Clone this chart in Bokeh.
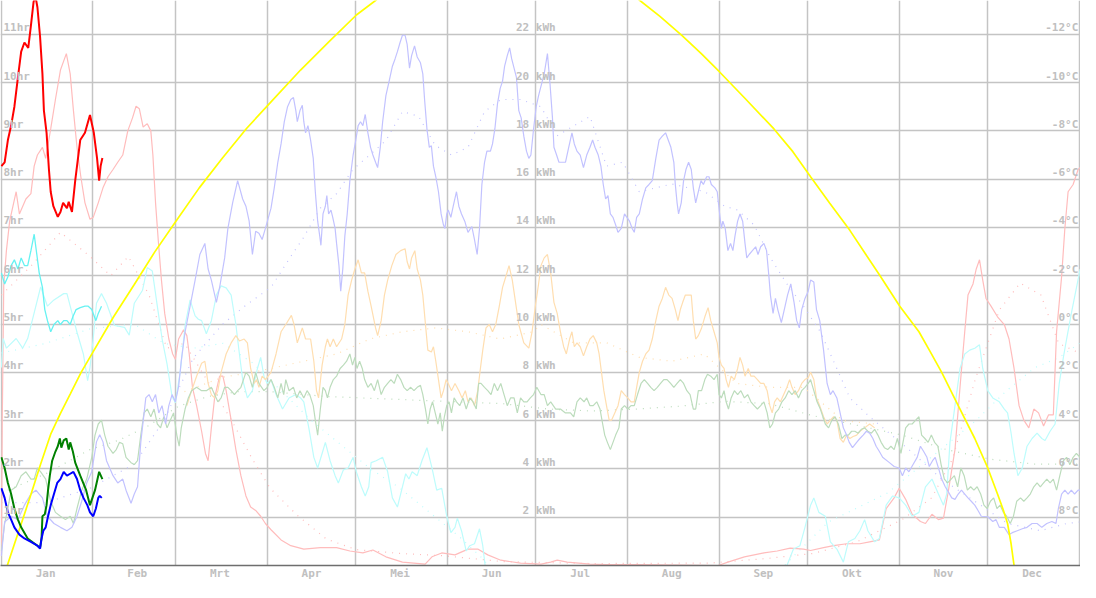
from bokeh.plotting import figure
from bokeh.models import Range1d, FixedTicker
from bokeh.core.properties import value
from bokeh.embed import file_html
from bokeh.resources import INLINE

# ---------------- axis texts ----------------
MONTHS = ["Jan", "Feb", "Mrt", "Apr", "Mei", "Jun", "Jul", "Aug", "Sep", "Okt", "Nov", "Dec"]
MONTH_START = [0, 31, 59, 90, 120, 151, 181, 212, 243, 273, 304, 334, 365]
HR_TICKS = [1, 2, 3, 4, 5, 6, 7, 8, 9, 10, 11]
KWH_TICKS = [2, 4, 6, 8, 10, 12, 14, 16, 18, 20, 22]
TEMP_TICKS = [8, 6, 4, 2, 0, -2, -4, -6, -8, -10, -12]

# ---------------- data: (day of year, value) ----------------
# heating hours, current year (hr)
HEAT_NOW = [(0, 8.27), (1.1, 8.35), (2.2, 8.81), (3.3, 9.11), (4.4, 9.50), (5.6, 10.11), (6.7, 10.64),
            (7.8, 10.83), (9.1, 10.72), (10, 11.18), (10.9, 11.67), (11.5, 11.8), (12.2, 11.56), (13.1, 10.95),
            (13.9, 10.18), (14.4, 9.42), (15.3, 8.96), (16.1, 8.2), (16.7, 7.74), (17.6, 7.44), (19.1, 7.22),
            (20, 7.32), (20.9, 7.51), (22.2, 7.40), (22.8, 7.53), (23.9, 7.32), (25, 7.97), (26.7, 8.81),
            (28.3, 8.96), (30, 9.33), (31.3, 8.96), (32.4, 8.43), (33.1, 7.97), (33.6, 8.27), (34.2, 8.44)]

# heating hours, previous year (hr)
HEAT = [(0, 0.2), (0.3, 3.0), (0.8, 5.8), (1.7, 6.52), (2.8, 7.13), (5, 7.74), (6.1, 7.28), (8.3, 7.59),
        (10, 7.70), (11.1, 8.27), (12.2, 8.50), (13.9, 8.66), (15, 8.43), (16.7, 9.04), (18.3, 9.65),
        (20, 10.26), (22, 10.60), (23.3, 10.18), (24.4, 9.42), (25.6, 8.66), (26.9, 8.05), (28.3, 7.51),
        (30, 7.17), (31.1, 7.21), (32.8, 7.51), (34.4, 7.82), (36.1, 8.05), (37.8, 8.20), (39.4, 8.35),
        (41.1, 8.50), (42.8, 9.0), (44.4, 9.27), (45.6, 9.51), (46.7, 9.46), (48, 9.08), (49.4, 9.15),
        (50.6, 9.0), (51.3, 8.5), (52.2, 7.51), (53.1, 6.75), (54.2, 5.91), (55.3, 5.22), (56.7, 4.69),
        (58, 4.38), (58.9, 4.27), (60, 4.69), (61.7, 4.88), (62.8, 4.76), (63.6, 4.38), (64.7, 3.69),
        (66.1, 3.31), (67.8, 2.78), (69.1, 2.32), (70, 2.17), (71.1, 2.85), (72.2, 3.47), (73.9, 3.92),
        (75, 3.92), (76.1, 3.62), (77.8, 3.01), (79.4, 2.40), (81.1, 1.86), (82.8, 1.44), (84.4, 1.21),
        (86.1, 1.14), (87.8, 1.02), (89.4, 0.87), (91.3, 0.74), (94.7, 0.53), (98, 0.41), (102.4, 0.34),
        (108, 0.37), (113.5, 0.37), (118, 0.30), (122.4, 0.26), (125.8, 0.32), (130.2, 0.18), (135.8, 0.07),
        (143.5, 0.03), (145.8, 0.18), (149.1, 0.26), (153.6, 0.22), (158, 0.34), (161.3, 0.34), (164.7, 0.22),
        (169.1, 0.11), (175.8, 0.05), (182.7, 0.03), (186, 0.07), (188.2, 0.11), (191.6, 0.07), (199.3, 0.03),
        (204.9, 0.02), (215, 0.02), (230, 0.01), (242.7, 0.0), (246, 0.07), (251.6, 0.18), (258.2, 0.26),
        (262.7, 0.30), (267.1, 0.36), (271.6, 0.34), (274, 0.31), (278.4, 0.37), (281.8, 0.41), (286.2, 0.45),
        (290.7, 0.45), (294, 0.49), (297.3, 0.53), (299.6, 1.18), (302.3, 1.40), (304, 1.60), (306.2, 1.37),
        (308.4, 1.06), (311.2, 0.91), (312.9, 0.87), (315.1, 1.06), (317.3, 0.95), (319, 0.98), (320.7, 1.56),
        (322.9, 2.40), (324.6, 3.69), (326.2, 4.84), (327.3, 5.60), (329, 5.83), (330.1, 6.14), (331.2, 6.33),
        (332.3, 5.91), (333.4, 5.53), (335.1, 5.37), (337.3, 5.15), (339.6, 4.99), (341.2, 4.69), (342.9, 4.08),
        (344.6, 3.31), (346.2, 3.01), (347.9, 2.85), (349.6, 3.24), (351.2, 3.16), (352.9, 2.89), (354.6, 3.12),
        (356.2, 3.12), (357.3, 4.84), (359, 5.98), (360.1, 6.98), (361.2, 7.74), (362.9, 7.89), (364.6, 8.20),
        (365.3, 8.24)]

# heating hours, long-term average (hr)
HEAT_AVG = [(0, 5.6), (10, 6.2), (20, 6.9), (30, 6.4), (37, 6.0), (43, 6.4), (50, 5.6), (56, 4.5), (62, 4.6),
            (70, 3.8), (78, 3.0), (85, 2.2), (91, 1.6), (100, 1.05), (110, 0.55), (120, 0.33), (135, 0.25),
            (150, 0.2), (170, 0.08), (200, 0.04), (240, 0.05), (260, 0.15), (275, 0.25), (290, 0.5), (305, 0.95),
            (315, 1.4), (322, 2.2), (330, 3.9), (338, 5.3), (345, 5.85), (352, 5.6), (358, 4.6), (365, 4.4)]

# outside temperature, current year (deg C)
TEMP_NOW = [(0, -2.12), (1.1, -1.66), (2.2, -1.96), (3.3, -2.42), (4.4, -2.66), (5.6, -2.28), (6.7, -2.74),
            (7.8, -2.42), (8.9, -2.42), (10, -3.04), (11.1, -3.72), (12, -2.88), (12.8, -2.12), (13.9, -1.52),
            (14.7, -0.60), (15.6, -0.14), (16.7, 0.32), (17.8, 0.02), (19.1, -0.14), (20, 0.02), (21.1, -0.14),
            (22.2, -0.14), (23.3, 0.02), (24.2, -0.30), (25.3, -0.60), (26.7, -0.68), (28.3, -0.74),
            (29.4, -0.74), (30.6, -0.60), (32, -0.14), (32.8, -0.44), (33.9, -0.74)]

# outside temperature, previous year (deg C), winter-spring part and autumn-winter part
TEMP_A = [(0, 1.8), (0.6, 0.6), (1.7, 1.0), (5, 0.6), (7.2, 1.0), (8.9, 0.6), (11.1, -0.46), (13.3, -1.54),
          (15.6, -0.74), (17.8, -1.0), (21.1, -1.26), (22.2, -1.26), (23.9, -0.46), (25.6, 0.34), (27.8, 1.26),
          (29.2, 2.34), (30, 1.8), (31.1, 0.6), (32.2, -0.86), (33.9, -1.26), (35.6, -0.86), (38.3, 0.06),
          (41.7, 0.14), (43.3, 0.46), (45, -0.86), (47.8, -1.4), (49.4, -2.34), (51.1, -2.2), (52.8, -0.74),
          (54.4, 0.6), (56.1, 1.66), (57.8, 3.0), (58.9, 3.26), (60.6, 1.94), (62.2, 0.06), (63.9, -1.0),
          (65.6, -0.34), (66.7, -0.2), (67.8, -0.14), (69.4, 0.4), (71.1, -0.14), (72.8, -1.2), (74.4, -1.58),
          (76.1, -1.5), (77.8, -1.2), (79.4, 0.02), (80.6, 1.24), (81.7, 2.3), (83.3, 3.06), (85, 2.76),
          (86.7, 1.84), (87.8, 1.38), (88.9, 2.16), (90, 2.46), (91.3, 2.3), (93, 2.92), (95.2, 3.52),
          (97.4, 3.06), (99.7, 2.92), (101.3, 3.06), (102.4, 3.22), (104.1, 4.3), (105.8, 5.52), (107.1, 5.96),
          (108.6, 5.36), (109.7, 4.9), (111.3, 5.66), (113, 6.28), (114.1, 6.58), (115.8, 6.04), (117.4, 5.96),
          (119.1, 5.52), (120.2, 6.12), (121.9, 6.74), (123.2, 7.12), (124.4, 6.74), (125.2, 5.74),
          (126.9, 5.66), (129.1, 5.52), (130.8, 6.12), (132.4, 7.2), (134.1, 7.58), (135.8, 6.74), (136.9, 6.2),
          (138, 6.42), (139.1, 6.12), (140.8, 6.28), (142.4, 5.66), (144.1, 5.12), (145.8, 5.96), (147.4, 6.88),
          (149.1, 6.8), (150.8, 7.96), (152.2, 8.64), (153.6, 8.42), (154.4, 8.04), (155.8, 8.56), (157.4, 9.4),
          (158.6, 9.18), (160.2, 9.1), (161.9, 8.48), (163, 9.18), (163.8, 10.0), (165, 11.0)]
TEMP_B = [(264, 11.0), (266, 10.0), (268.2, 9.32), (270.4, 9.18), (272.1, 8.42), (274, 7.5), (275.1, 7.2),
          (276.8, 7.8), (279, 7.96), (280.7, 9.02), (282.9, 9.32), (285.1, 9.86), (286.8, 9.02), (289, 8.88),
          (290.7, 8.56), (292.3, 8.1), (293.4, 8.56), (295.7, 9.02), (297.3, 8.88), (299.6, 7.5), (301.8, 7.12),
          (304, 7.2), (306.2, 7.5), (308.4, 7.96), (310.7, 7.8), (312.9, 6.74), (315.1, 6.42), (317.3, 7.04),
          (319, 7.5), (320.1, 7.04), (321.2, 4.9), (322.9, 3.38), (324.6, 1.84), (326.2, 1.24), (327.9, 1.08),
          (329.6, 1.0), (331.2, 0.86), (332.3, 1.84), (334, 2.76), (335.7, 3.06), (337.9, 3.22), (339.6, 3.52),
          (340.7, 3.68), (341.8, 4.44), (342.9, 5.36), (344.2, 6.28), (345.7, 5.96), (347.3, 5.06), (349, 4.74),
          (350.7, 4.52), (352.3, 4.74), (353.4, 4.82), (355.1, 4.44), (356.8, 4.14), (358.2, 2.46),
          (359.6, 1.38), (360.7, 0.62), (362.3, -0.44), (363.8, -1.36), (365.3, -2.28)]

# outside temperature, long-term average (deg C)
TEMP_AVG_A = [(0, 1.2), (15, 0.8), (30, 0.2), (45, 0.0), (55, 0.8), (65, 1.0), (75, 0.8), (85, 1.6), (95, 2.8),
              (105, 4.0), (115, 5.0), (125, 6.0), (135, 6.8), (145, 7.8), (155, 8.8), (162, 9.6), (168, 10.4)]
TEMP_AVG_B = [(262, 10.4), (270, 9.4), (280, 8.2), (290, 7.6), (300, 7.0), (310, 6.0), (320, 5.0), (330, 4.0),
              (340, 2.8), (350, 1.8), (358, 1.4), (365, 0.8)]

# solar yield, current year and previous year (kWh)
SOLAR_NOW = [(0, 3.20), (1.1, 2.80), (2.2, 2.20), (3.3, 1.90), (4.4, 1.58), (6.1, 1.28), (7.8, 1.12), (10, 0.98),
             (12.2, 0.82), (13.1, 0.70), (13.6, 1.12), (14.2, 1.44), (15, 1.58), (15.8, 2.04), (16.7, 2.50),
             (17.8, 2.96), (18.9, 3.42), (20, 3.58), (21.1, 3.88), (22.2, 3.72), (23.3, 3.80), (24.4, 3.88),
             (25.6, 3.58), (26.7, 3.12), (27.8, 2.80), (29.1, 2.50), (30, 2.20), (31.1, 2.04), (32, 2.36),
             (32.8, 2.80), (33.3, 2.88), (34, 2.80)]
SOLAR = [(0, 0.4), (1.1, 1.8), (3.3, 2.04), (5.6, 1.9), (7.8, 2.5), (10, 2.96), (11.7, 3.12), (12.8, 2.96),
         (13.9, 2.8), (15.6, 2.04), (17.8, 1.74), (20, 1.58), (22.2, 1.44), (23.9, 1.58), (25.6, 2.04),
         (27.2, 2.66), (28.9, 3.42), (30.6, 3.88), (32.2, 5.12), (33.3, 5.42), (34.4, 5.12), (35.6, 4.34),
         (37.8, 3.72), (39.4, 3.42), (41.1, 3.58), (42.2, 3.12), (43.9, 2.58), (45, 2.96), (46.1, 3.26),
         (47.2, 5.1), (48.9, 6.94), (50, 7.08), (51.1, 6.78), (52.2, 7.08), (53.3, 6.32), (54.4, 6.62),
         (55.6, 5.86), (56.7, 6.62), (57.8, 7.08), (58.9, 6.78), (60, 7.4), (60.9, 8.46), (62.2, 9.68),
         (63.9, 10.74), (65.6, 11.82), (67.2, 12.88), (68.9, 13.34), (70, 12.28), (71.1, 11.82), (72.8, 10.9),
         (73.9, 11.52), (75.6, 12.74), (76.7, 13.96), (78.3, 15.02), (80, 15.94), (81.7, 15.18), (82.8, 14.88),
         (83.9, 14.26), (85, 12.88), (86.1, 13.84), (87.2, 13.76), (88.3, 13.5), (89.4, 13.96),
         (91.3, 14.8), (92.4, 15.64), (93.6, 16.7), (94.7, 17.46), (95.8, 18.38), (96.9, 19.0), (98, 19.3),
         (98.9, 19.38), (99.7, 18.84), (100.2, 18.38), (101.1, 18.84), (101.9, 19.06), (102.4, 18.38),
         (103, 17.92), (103.8, 18.22), (104.7, 17.62), (105.6, 16.86), (106.3, 15.48), (107.1, 14.26),
         (107.8, 13.64), (108.2, 13.26), (108.9, 14.56), (109.7, 14.88), (110.2, 15.32), (110.8, 14.56),
         (111.6, 14.72), (112.2, 14.42), (113, 13.96), (113.5, 13.34), (114.3, 12.42), (114.9, 11.36),
         (115.6, 12.28), (116.3, 13.64), (117.1, 14.56), (118, 15.94), (119.1, 17.0), (120, 17.62),
         (120.8, 18.22), (121.6, 18.38), (122.4, 18.22), (123.2, 18.68), (124.1, 17.92), (125, 17.32),
         (125.8, 17.0), (126.7, 16.7), (127.4, 16.48), (128.3, 17.32), (129.1, 18.38), (130.2, 19.46),
         (131.3, 20.06), (132.4, 20.68), (133.3, 20.98), (134.1, 21.28), (135, 21.66), (135.8, 21.96),
         (136.7, 21.96), (137.4, 21.58), (138.2, 20.6), (138.9, 21.12), (139.9, 21.52), (140.8, 21.06),
         (141.9, 20.82), (142.7, 20.36), (143.3, 19.3), (144.1, 18.08), (144.9, 17.32), (145.6, 17.38),
         (146.3, 16.54), (147.1, 16.1), (148, 15.48), (148.9, 14.56), (149.7, 14.1), (150.2, 13.96),
         (150.8, 14.56), (151.3, 14.72), (152.2, 14.42), (153, 14.88), (154.1, 15.48), (154.9, 14.88),
         (155.8, 14.56), (156.9, 14.26), (158, 13.8), (159.3, 14.04), (160.2, 13.5), (161.1, 12.88),
         (161.9, 13.96), (162.7, 15.78), (163.6, 16.7), (164.4, 17.16), (165.6, 17.16), (166.3, 17.46),
         (167.1, 18.08), (168, 19.14), (168.9, 19.76), (169.7, 20.06), (170.4, 20.68), (171.3, 21.12),
         (172.1, 21.44), (172.8, 20.98), (173.6, 20.6), (174.4, 20.22), (175.2, 18.84), (176, 18.54),
         (176.9, 17.78), (177.8, 17.16), (178.6, 16.86), (179.3, 17.0), (180.2, 18.08), (181.1, 19.0),
         (181.9, 19.46), (182.7, 19.84), (183.8, 20.36), (184.9, 21.2), (185.8, 19.9), (186.6, 18.54),
         (187.1, 17.32), (188, 17.0), (188.8, 16.7), (189.9, 16.7), (191, 16.7), (192.1, 17.32), (193.2, 17.92),
         (194, 17.46), (194.9, 17.16), (196, 17.0), (197.1, 16.48), (198.2, 17.0), (199.3, 17.32),
         (200.2, 17.62), (201, 17.32), (202.1, 17.0), (203, 16.54), (203.8, 15.78), (204.6, 15.18),
         (205.4, 15.32), (206.2, 14.56), (207.1, 14.42), (208, 14.1), (208.8, 13.8), (209.9, 13.96),
         (211, 14.56), (211.8, 14.42), (212.7, 14.26), (213.6, 13.96), (214.3, 13.8), (215.1, 14.42),
         (216, 14.56), (217.1, 15.18), (218.2, 15.64), (219.3, 15.78), (220.4, 15.94), (221.6, 16.86),
         (222.7, 17.62), (223.8, 17.78), (224.9, 17.92), (225.8, 17.62), (226.7, 17.32), (227.7, 16.7),
         (228.2, 15.78), (228.8, 15.02), (229.3, 14.56), (230.2, 15.02), (231, 15.94), (231.8, 16.4),
         (232.7, 16.7), (233.6, 16.4), (234.3, 15.64), (235.1, 15.02), (236, 15.48), (236.9, 15.94),
         (237.7, 15.78), (238.8, 16.1), (239.6, 16.1), (240.4, 15.78), (241.6, 15.64), (242.4, 15.48),
         (243.2, 14.56), (243.8, 13.96), (244.3, 14.26), (245.1, 13.96), (246, 13.04), (246.9, 13.34),
         (247.7, 13.04), (248.4, 13.64), (249.3, 14.26), (250.1, 14.56), (251, 14.26), (251.8, 13.34),
         (252.4, 12.74), (253.2, 12.88), (254.3, 13.04), (255.4, 13.2), (256.2, 12.88), (257.1, 13.2),
         (258.2, 13.34), (259.1, 13.04), (259.9, 11.96), (260.4, 11.2), (261.3, 10.44), (262.1, 11.06),
         (262.9, 10.6), (264.1, 10.06), (265.1, 10.6), (266.2, 11.2), (267.3, 11.66), (268.4, 10.9),
         (269.3, 10.14), (270.2, 9.84), (271, 10.6), (272.1, 11.06), (273.2, 11.36), (274, 11.82),
         (275.1, 11.74), (276, 10.6), (277.1, 10.14), (278.4, 8.92), (279.6, 7.54), (280.7, 7.08),
         (281.6, 7.24), (282.9, 6.94), (284, 6.32), (285.1, 5.7), (286.2, 5.4), (287.1, 5.1), (288.2, 4.88),
         (289.6, 5.1), (290.7, 5.26), (291.8, 5.4), (292.9, 5.56), (294, 5.48), (295.1, 5.26), (296.2, 4.94),
         (297.3, 4.72), (298.4, 4.48), (300.7, 4.26), (302.3, 4.1), (304, 4.04), (305.1, 3.72), (306.2, 4.04),
         (307.3, 3.88), (308.7, 4.18), (310.1, 4.48), (311.2, 4.94), (312.3, 4.72), (313.4, 4.48), (314.2, 4.1),
         (315.3, 4.34), (316.2, 4.48), (317.3, 4.04), (318.4, 3.58), (319.6, 3.26), (320.7, 3.04), (321.8, 2.8),
         (322.9, 2.74), (324, 2.96), (325.1, 3.12), (326.2, 2.96), (327.3, 2.8), (328.4, 2.66), (329.6, 2.5),
         (330.7, 2.28), (331.8, 2.04), (334, 2.02), (335.7, 1.82), (336.8, 1.9), (337.9, 1.58), (339.6, 1.58),
         (341.2, 1.28), (342.3, 1.36), (344, 1.44), (345.7, 1.52), (347.3, 1.58), (349, 1.74), (350.7, 1.74),
         (352.3, 1.58), (354, 1.74), (355.7, 1.82), (357.1, 1.74), (357.9, 2.36), (359, 2.96), (360.1, 3.12),
         (361.2, 2.96), (362.3, 3.12), (363.4, 2.96), (364.6, 3.12), (365.3, 3.12)]
SOLAR_AVG = [(0, 2.6), (15, 2.6), (30, 3.2), (45, 4.2), (55, 6.0), (65, 8.6), (75, 10.0), (83, 10.8),
             (91.3, 11.52), (98, 12.8), (102.4, 13.6), (108, 14.8), (113.5, 15.4), (119, 16.4), (124.7, 17.0),
             (130.2, 17.6), (135.8, 18.8), (141.3, 18.6), (146.9, 17.4), (152.4, 17.0), (158, 17.32),
             (163.6, 18.8), (169.1, 19.3), (175.8, 19.3), (182.7, 19.0), (188.2, 17.8), (199.3, 18.6),
             (204.9, 16.54), (210.4, 16.7), (216, 15.48), (227.1, 15.8), (238.2, 15.48), (244.9, 14.88),
             (249.3, 14.72), (254.9, 14.1), (260.4, 12.74), (266, 11.66), (271.6, 10.74), (277.3, 9.68),
             (280.7, 8.76), (287.3, 6.94), (294, 6.16), (307.3, 4.8), (318.4, 3.58), (329.6, 2.66),
             (340.7, 1.74), (351.8, 1.44), (360.7, 1.74), (365, 1.8)]

# electricity use (kWh), previous year and average
POWER = [(62.8, 6.62), (64.4, 7.24), (66.1, 7.84), (67.8, 8.38), (68.9, 8.46), (70, 7.54), (71.1, 7.08),
         (72.2, 6.94), (73.3, 7.24), (74.4, 8.0), (76.1, 8.76), (77.8, 9.22), (79.4, 9.52), (80.6, 9.3),
         (82.2, 9.38), (83.3, 9.22), (84.4, 8.16), (85.6, 7.54), (86.4, 7.7), (87.2, 7.38), (88.3, 7.84),
         (89.4, 7.7), (91.3, 8.0), (93, 8.76), (94.7, 9.68), (96.3, 9.98), (98.2, 10.36), (99.1, 9.98),
         (100.2, 9.22), (101.9, 9.84), (103, 9.38), (104.7, 9.38), (105.8, 8.46), (106.7, 7.24), (107.4, 6.94),
         (108.6, 8.3), (109.7, 9.06), (110.4, 9.38), (111.3, 9.06), (112.4, 9.38), (113.5, 9.06), (115.2, 9.38),
         (116.3, 9.98), (117.4, 11.2), (118.6, 11.82), (119.7, 12.28), (120.8, 12.66), (121.9, 12.12),
         (123, 12.12), (124.1, 11.36), (125.2, 10.74), (126.7, 9.84), (127.4, 9.52), (128.6, 10.14),
         (129.7, 11.2), (130.8, 11.82), (132.2, 12.42), (133.6, 12.88), (135.2, 13.04), (136.7, 13.12),
         (137.4, 12.58), (138.2, 12.28), (138.9, 12.74), (140, 13.04), (140.8, 12.28), (141.9, 11.82),
         (142.7, 11.2), (143.6, 9.98), (144.4, 8.92), (145.6, 8.84), (146.3, 9.06), (147.1, 8.46), (148, 7.7),
         (148.9, 6.94), (149.7, 7.24), (150.6, 7.7), (151.3, 7.54), (152.4, 7.24), (153.6, 7.54), (154.9, 7.24),
         (156, 6.94), (157.1, 7.24), (158, 6.78), (159.1, 6.94), (160.2, 6.62), (161.3, 7.24), (162.2, 8.16),
         (163, 8.92), (164.1, 9.84), (165.2, 9.98), (166.3, 9.68), (167.4, 9.98), (168.6, 10.74), (169.7, 11.52),
         (170.8, 11.96), (171.9, 12.42), (173, 11.82), (174.1, 10.9), (175.2, 9.98), (176.9, 9.22), (178.6, 9.0),
         (179.7, 9.68), (180.8, 10.74), (181.9, 11.66), (182.7, 12.42), (183.8, 12.74), (184.9, 12.88),
         (186, 12.12), (187.1, 10.9), (188.2, 10.44), (189.3, 9.68), (190.4, 9.06), (191.3, 8.76), (192.4, 9.38),
         (193.2, 9.68), (194, 9.06), (194.9, 9.22), (196, 9.06), (197.1, 8.68), (198.2, 9.06), (199.3, 9.38),
         (200.4, 9.52), (201.6, 9.22), (202.4, 8.76), (203.2, 8.0), (204, 7.24), (204.9, 6.62), (205.8, 6.02),
         (206.6, 6.02), (207.7, 6.32), (208.8, 6.62), (209.9, 7.24), (211, 7.08), (212.1, 6.94), (213.2, 6.78),
         (214.3, 6.78), (215.1, 7.38), (216, 8.0), (217.1, 8.46), (218.2, 8.76), (219.3, 8.92), (220.4, 9.38),
         (221.6, 10.14), (222.7, 10.74), (223.8, 11.06), (224.9, 11.52), (226, 11.2), (227.1, 11.06),
         (228.2, 10.6), (229.1, 10.14), (229.9, 10.6), (230.7, 10.9), (231.6, 11.2), (232.7, 11.2), (233.6, 11.2),
         (234.3, 10.14), (235.1, 9.38), (236, 9.52), (237.1, 9.84), (238.2, 10.3), (239.3, 10.68),
         (240.2, 10.14), (241.3, 9.68), (242.4, 9.22), (243, 8.62), (243.8, 8.3), (244.7, 8.16), (245.4, 7.7),
         (246.2, 7.38), (247.1, 7.84), (248.2, 7.7), (249.3, 8.16), (250.1, 8.62), (251, 8.3), (251.8, 7.84),
         (252.9, 8.16), (253.8, 7.84), (254.9, 7.84), (256, 7.7), (257.1, 7.54), (258.2, 7.54), (259.3, 7.24),
         (260.2, 6.62), (261, 6.32), (261.8, 6.78), (262.7, 6.94), (263.8, 6.78), (264.9, 7.08), (266, 7.38),
         (266.9, 7.7), (267.7, 7.38), (268.8, 7.08), (269.9, 7.24), (271, 7.54), (272.1, 7.7), (273.2, 7.78),
         (274, 8.0), (275.1, 7.7), (276, 6.94), (277.1, 6.62), (278.4, 6.16), (279.6, 5.86), (280.7, 6.02),
         (281.8, 6.16), (282.9, 6.02), (284, 5.26), (285.1, 5.1), (286.2, 5.4), (287.3, 5.26), (288.4, 5.34),
         (289.6, 5.4), (290.7, 5.56), (292.3, 5.7), (294, 5.86), (295.7, 5.7)]
POWER_AVG = [(62, 7.2), (75, 7.8), (85, 8.0), (91.3, 8.16), (113.5, 8.76), (124.7, 9.38), (135.8, 9.68),
             (147, 9.84), (158, 9.68), (169, 9.38), (180, 9.68), (182.7, 9.98), (193.8, 9.22), (205, 9.22),
             (216, 8.62), (227, 8.46), (238, 8.76), (249, 7.54), (260, 7.38), (271.6, 7.38), (285, 6.0),
             (296, 5.86)]

# base load (kWh): current year, previous year, average
BASE_NOW = [(0, 4.48), (1.1, 4.04), (2.2, 3.42), (3.3, 2.96), (4.4, 2.36), (5.6, 1.90), (6.7, 1.58), (8.9, 1.12),
            (12.2, 0.82), (13.1, 0.74), (13.6, 1.12), (13.9, 2.04), (14.7, 2.12), (15.3, 2.50), (15.8, 3.12),
            (16.4, 3.72), (17.2, 4.34), (18.3, 4.72), (19.1, 4.94), (19.8, 5.26), (20.3, 4.88), (21.1, 5.18),
            (22, 5.26), (22.8, 4.80), (23.3, 5.10), (24.2, 4.72), (25, 4.26), (26.7, 3.72), (28.7, 3.12),
            (30, 2.50), (31.7, 3.12), (33.1, 3.88), (34.2, 3.58)]
BASE = [(0, 0.6), (1.1, 1.74), (2.2, 2.36), (3.3, 3.12), (5, 3.26), (6.7, 3.72), (8.3, 3.88), (10, 3.58),
        (11.1, 3.58), (12.2, 4.04), (13.3, 3.88), (15, 3.58), (16.7, 2.66), (18.3, 2.2), (20, 2.04), (21.7, 1.9),
        (23.3, 2.04), (24.4, 1.74), (25.6, 2.36), (27.2, 3.12), (28.9, 3.58), (30.6, 4.48), (31.7, 5.4),
        (32.8, 5.86), (33.9, 6.02), (35, 5.4), (36.1, 4.94), (37.8, 4.64), (38.9, 4.8), (40, 5.1), (41.1, 5.04),
        (42.2, 4.48), (43.9, 4.26), (45, 4.18), (46.1, 4.34), (47.2, 5.4), (48.3, 6.32), (49.4, 6.48),
        (50.6, 6.16), (51.7, 6.48), (52.8, 5.86), (53.9, 5.7), (55, 6.16), (56.1, 5.7), (57.2, 6.02),
        (58.3, 6.32), (59.4, 5.4), (60.2, 4.94), (60.9, 5.7), (62.2, 6.48), (63.3, 6.94), (64.4, 7.24),
        (66.1, 7.38), (67.8, 7.24), (69.4, 7.24), (71.1, 7.38), (72.2, 7.08), (73.3, 6.78), (74.4, 6.94),
        (75.6, 7.38), (76.7, 7.38), (77.8, 7.24), (78.9, 7.08), (80, 7.24), (81.1, 7.38), (82.8, 8.0),
        (83.9, 7.84), (85, 7.38), (86.1, 8.0), (87.2, 7.54), (88.9, 7.24), (90, 7.38), (91.3, 7.7), (92.4, 7.38),
        (93.6, 6.94), (94.7, 7.54), (95.6, 7.08), (96.3, 7.7), (97.4, 7.24), (98.9, 7.38), (100, 6.94),
        (101.1, 7.24), (102.4, 6.94), (103.5, 7.24), (104.4, 7.08), (105.6, 6.62), (106.3, 6.02), (107.1, 5.4),
        (108, 6.48), (108.9, 7.38), (109.7, 7.24), (110.4, 6.94), (111.3, 7.38), (112.4, 7.7), (113.5, 7.84),
        (114.7, 8.16), (115.8, 8.3), (116.9, 8.46), (118, 8.76), (118.9, 8.3), (119.7, 8.62), (120.4, 8.16),
        (121.3, 8.46), (122.2, 8.16), (123, 7.7), (124.1, 7.38), (125.2, 7.54), (126.3, 7.24), (127.4, 7.7),
        (128.6, 7.08), (129.7, 7.38), (130.8, 7.54), (131.9, 7.7), (133, 7.54), (134.1, 7.92), (135.2, 7.7),
        (136.3, 7.38), (137.4, 7.24), (138.6, 7.38), (139.7, 7.24), (140.8, 7.38), (141.9, 7.46), (142.7, 7.08),
        (143.6, 6.48), (144.4, 5.86), (145.2, 6.48), (146, 6.78), (146.9, 6.32), (147.8, 5.86), (148.6, 6.32),
        (149.3, 5.56), (150, 6.16), (150.8, 6.62), (151.6, 6.78), (152.4, 6.32), (153.3, 6.94), (154.1, 6.78),
        (155.2, 6.62), (156.3, 6.94), (157.4, 6.48), (158.6, 6.94), (159.7, 6.78), (160.8, 6.48), (161.6, 7.54),
        (162.4, 7.54), (163.6, 7.38), (164.7, 7.24), (165.8, 7.08), (166.9, 7.54), (168, 7.24), (169.1, 7.54),
        (170.2, 7.08), (171.3, 6.62), (172.4, 6.94), (173.6, 6.94), (174.7, 6.32), (175.8, 6.94), (176.9, 6.78),
        (178, 6.78), (179.1, 6.94), (180.2, 7.08), (181.3, 7.38), (182.7, 7.08), (183.8, 7.08), (184.9, 6.62),
        (186, 6.78), (187.7, 6.48), (189.3, 6.48), (191, 6.32), (192.7, 6.32), (193.8, 6.16), (194.9, 6.78),
        (196, 6.94), (197.3, 6.78), (198.2, 6.94), (199.3, 6.62), (200.4, 6.62), (201.6, 6.78), (202.7, 6.48),
        (203.6, 5.86), (204.3, 5.4), (205.2, 5.1), (206.2, 4.8), (207.1, 5.1), (208, 5.4), (209.1, 5.7),
        (209.9, 6.48), (211, 6.62), (212.1, 6.48), (213.2, 6.62), (214.3, 6.62), (215.4, 7.08), (216.6, 7.54),
        (217.7, 7.7), (218.8, 7.54), (219.9, 7.38), (221, 7.24), (222.1, 7.38), (223.2, 7.54), (224.3, 7.7),
        (225.4, 7.7), (226.6, 7.54), (227.7, 7.38), (228.8, 7.54), (229.9, 7.7), (231, 7.54), (232.1, 7.24),
        (233.2, 7.08), (234.3, 6.48), (235.1, 6.48), (236, 7.24), (237.1, 7.24), (238.2, 7.7), (239.1, 7.92),
        (240.2, 7.84), (241.3, 7.7), (242.4, 7.92), (243, 7.08), (243.8, 6.94), (244.7, 7.24), (245.4, 6.78),
        (246.2, 6.48), (247.1, 6.94), (248.2, 7.24), (249.3, 7.08), (250.4, 7.24), (251.6, 6.94), (252.7, 7.08),
        (253.8, 6.78), (254.9, 6.62), (256, 6.48), (257.1, 6.62), (258.2, 6.78), (259.3, 6.32), (260.2, 5.7),
        (261.1, 5.86), (262.1, 6.32), (263.2, 6.48), (264.3, 6.78), (265.4, 6.94), (266.6, 7.24), (267.7, 7.08),
        (268.8, 7.24), (269.9, 6.94), (271, 7.24), (272.1, 7.38), (273.2, 7.54), (274, 7.7), (275.1, 7.24),
        (276.2, 6.78), (277.3, 6.48), (279, 5.86), (280.1, 5.7), (281.2, 6.02), (282.3, 6.16), (283.4, 5.86),
        (284.6, 5.26), (285.7, 5.4), (286.8, 5.4), (287.9, 5.56), (289, 5.56), (290.1, 5.48), (291.2, 5.64),
        (292.3, 5.7), (293.4, 5.56), (294.6, 5.48), (295.7, 5.64), (296.8, 5.4), (297.9, 5.1), (299, 4.88),
        (300.1, 4.8), (301.2, 4.94), (302.3, 4.8), (303.4, 5.26), (304.6, 4.64), (305.3, 5.1), (306.2, 5.7),
        (307.3, 5.86), (308.4, 5.86), (309.6, 6.02), (310.7, 6.16), (311.6, 5.4), (312.7, 5.26), (313.8, 5.1),
        (314.9, 5.4), (316, 5.1), (317.1, 4.94), (318.2, 4.18), (319.3, 3.58), (320.4, 3.42), (321.6, 3.58),
        (322.7, 3.72), (323.8, 3.26), (324.9, 4.04), (326, 3.72), (327.1, 3.12), (328.2, 3.26), (329.3, 3.12),
        (330.4, 3.26), (331.6, 2.96), (332.7, 2.5), (333.8, 2.36), (334.9, 2.66), (336, 2.8), (337.1, 2.36),
        (338.2, 2.5), (339.3, 2.2), (340.4, 2.04), (341.6, 1.74), (342.7, 2.04), (343.8, 2.66), (345.1, 2.8),
        (346.2, 2.66), (347.3, 2.8), (348.4, 2.96), (349.6, 3.26), (350.7, 3.42), (351.8, 3.26), (352.9, 3.42),
        (354, 3.58), (355.1, 3.42), (356.2, 3.58), (357.3, 3.12), (358.4, 3.72), (359.6, 4.34), (360.7, 4.48),
        (361.8, 4.18), (362.9, 4.48), (364, 4.64), (365.3, 4.48)]
BASE_AVG = [(0, 3.0), (15, 3.8), (30, 4.8), (40, 5.2), (50, 5.8), (60, 6.6), (70, 7.0), (80, 7.2), (91, 7.2),
            (110, 7.0), (130, 6.9), (150, 6.8), (170, 6.7), (185, 6.48), (200, 6.4), (215, 6.48), (230, 6.6),
            (245, 6.8), (260, 6.7), (275, 6.2), (290, 5.8), (305, 5.4), (320, 4.8), (335, 4.4), (350, 4.2),
            (365, 4.2)]

# yellow curve (hr)
SUN = [(2, 0.0), (4.5, 0.46), (6.7, 0.86), (10, 1.47), (13.3, 2.1), (16.7, 2.72), (20, 3.15), (23.3, 3.55),
       (27, 4.0), (31.1, 4.43), (38, 5.15), (45, 5.82), (52, 6.5), (59.1, 7.13), (67, 7.82), (75, 8.45),
       (83, 9.05), (91.3, 9.6), (101.3, 10.26), (111.3, 10.87), (120.2, 11.40), (126.9, 11.71), (140, 12.45),
       (155, 12.95), (172, 13.15), (190, 12.9), (205, 12.35), (216, 11.71), (223, 11.37), (230.4, 10.98),
       (237, 10.6), (243.2, 10.22), (252, 9.66), (261.6, 9.04), (268, 8.57), (274, 8.05), (280.5, 7.5),
       (287.3, 6.94), (292.5, 6.46), (297.3, 6.02), (304.2, 5.37), (310.7, 4.84), (314.5, 4.43), (318.4, 4.0),
       (324, 3.31), (329.6, 2.63), (334, 2.02), (337.3, 1.48), (339.2, 1.16), (340.7, 0.87), (341.9, 0.45),
       (342.9, 0.0)]

# ---------------- figure ----------------
GRID = "#c4c4c4"
LABEL = "#c0c0c0"
FONT = "DejaVu Sans Mono"

p = figure(width=1080, height=582, x_range=Range1d(-0.3, 365.4), y_range=Range1d(0, 11.7),
           output_backend="svg", toolbar_location=None,
           min_border_left=0, min_border_right=0, min_border_top=0, min_border_bottom=0,
           background_fill_color="white", border_fill_color="white", outline_line_color=None)
p.extra_y_ranges = {"kwh": Range1d(0, 23.4), "temp": Range1d(10, -13.4)}

p.yaxis.visible = False
xa = p.xaxis[0]
mids = [s + 15 for s in MONTH_START[:-1]]
xa.ticker = FixedTicker(ticks=mids)
xa.major_label_overrides = {m: name for m, name in zip(mids, MONTHS)}
xa.major_tick_line_color = None
xa.minor_tick_line_color = None
xa.major_tick_in = 0
xa.major_tick_out = 0
xa.axis_line_color = "#6e6e6e"
xa.axis_line_width = 1.5
xa.major_label_standoff = 1
xa.major_label_text_color = LABEL
xa.major_label_text_font = FONT
xa.major_label_text_font_style = "bold"
xa.major_label_text_font_size = "11px"

p.xgrid.ticker = FixedTicker(ticks=MONTH_START)
p.ygrid.ticker = FixedTicker(ticks=HR_TICKS)
for g in (p.xgrid[0], p.ygrid[0]):
    g.grid_line_color = GRID
    g.grid_line_width = 1.5


def draw(series, color, width=1.0, dash="solid", rng="default", alpha=1.0):
    xs = [d for d, v in series]
    ys = [v for d, v in series]
    p.line(xs, ys, line_color=color, line_width=width, line_dash=dash,
           y_range_name=rng, line_alpha=alpha)


DOT = "1 6"
PINK, CYAN, PURPLE, ORANGE, GREEN = "#ffbcbc", "#bdfcfc", "#c2c2ff", "#ffdeb0", "#bcdcbc"

# averages (dotted)
draw(HEAT_AVG, PINK, 1.2, DOT)
draw(TEMP_AVG_A, CYAN, 1.2, DOT, "temp")
draw(TEMP_AVG_B, CYAN, 1.2, DOT, "temp")
draw(SOLAR_AVG, PURPLE, 1.2, DOT, "kwh")
draw(POWER_AVG, ORANGE, 1.2, DOT, "kwh")
draw(BASE_AVG, GREEN, 1.2, DOT, "kwh")

# previous year
draw(HEAT, PINK, 1.2)
draw(TEMP_A, CYAN, 1.2, rng="temp")
draw(TEMP_B, CYAN, 1.2, rng="temp")
draw(POWER, ORANGE, 1.2, rng="kwh")
draw(BASE, GREEN, 1.2, rng="kwh")
draw(SOLAR, PURPLE, 1.2, rng="kwh")

# yellow curve
draw(SUN, "#ffff00", 1.7)

# current year
draw(TEMP_NOW, "#66f2f2", 1.3, rng="temp")
draw(BASE_NOW, "#008000", 2.0, rng="kwh")
draw(SOLAR_NOW, "#0000ff", 2.0, rng="kwh")
draw(HEAT_NOW, "#ff0000", 2.0)

# in-plot scale labels
common = dict(text_color=LABEL, text_font=value(FONT), text_font_style="bold", text_font_size="11px",
              text_baseline="bottom")
p.text(x=[0] * len(HR_TICKS), y=HR_TICKS, text=[f"{k}hr" for k in HR_TICKS],
       x_offset=2, y_offset=0, text_align="left", **common)
p.text(x=[187.7] * len(KWH_TICKS), y=KWH_TICKS, text=[f"{k} kWh" for k in KWH_TICKS],
       y_range_name="kwh", text_align="right", **common)
p.text(x=[365] * len(TEMP_TICKS), y=TEMP_TICKS, text=[f"{t}°C" for t in TEMP_TICKS],
       y_range_name="temp", x_offset=-1, text_align="right", **common)

open("out.html", "w").write(file_html(p, INLINE))
